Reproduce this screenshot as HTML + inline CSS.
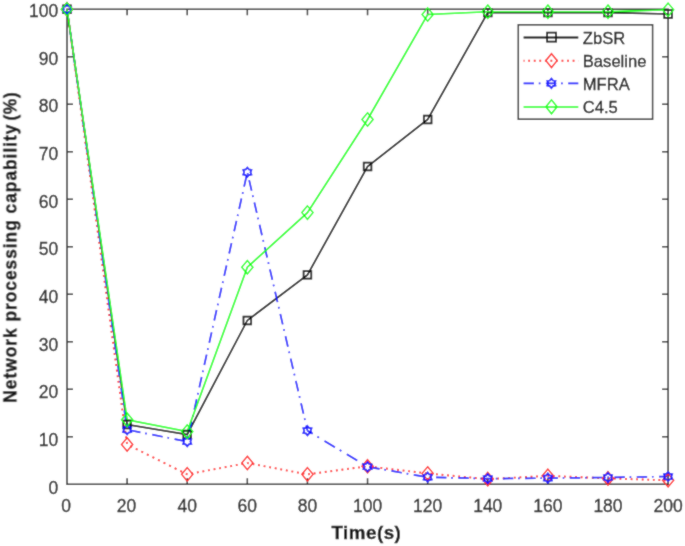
<!DOCTYPE html>
<html><head><meta charset="utf-8"><style>
html,body{margin:0;padding:0;background:#fff;}
body{width:685px;height:546px;overflow:hidden;position:relative;font-family:"Liberation Sans",sans-serif;}
svg{position:absolute;left:0;top:0;}
svg text{font-family:"Liberation Sans",sans-serif;}
</style></head><body>
<svg width="685" height="546" viewBox="0 0 685 546">
<defs><filter id="bl" filterUnits="userSpaceOnUse" x="0" y="0" width="685" height="546"><feConvolveMatrix order="3" kernelMatrix="1 2 1 2 16 2 1 2 1" divisor="28" edgeMode="duplicate"/></filter></defs>
<g filter="url(#bl)">
<rect width="685" height="546" fill="#fff"/>
<path d="M67.0,9.3V484.35H668.1V9.3Z" fill="none" stroke="#2a2a2a" stroke-width="1.5"/>
<path d="M127.11,484.35v-6.0M127.11,9.3v6.0M187.22,484.35v-6.0M187.22,9.3v6.0M247.33,484.35v-6.0M247.33,9.3v6.0M307.44,484.35v-6.0M307.44,9.3v6.0M367.55,484.35v-6.0M367.55,9.3v6.0M427.66,484.35v-6.0M427.66,9.3v6.0M487.77,484.35v-6.0M487.77,9.3v6.0M547.88,484.35v-6.0M547.88,9.3v6.0M607.99,484.35v-6.0M607.99,9.3v6.0M67.0,436.85h6.0M668.1,436.85h-6.0M67.0,389.34h6.0M668.1,389.34h-6.0M67.0,341.84h6.0M668.1,341.84h-6.0M67.0,294.33h6.0M668.1,294.33h-6.0M67.0,246.83h6.0M668.1,246.83h-6.0M67.0,199.32h6.0M668.1,199.32h-6.0M67.0,151.81h6.0M668.1,151.81h-6.0M67.0,104.31h6.0M668.1,104.31h-6.0M67.0,56.81h6.0M668.1,56.81h-6.0" fill="none" stroke="#2a2a2a" stroke-width="1.5"/>
<g font-size="17.5" fill="#262626" stroke="#262626" stroke-width="0.3"><text x="66.20" y="511.5" text-anchor="middle">0</text><text x="126.41" y="511.5" text-anchor="middle">20</text><text x="187.22" y="511.5" text-anchor="middle">40</text><text x="247.33" y="511.5" text-anchor="middle">60</text><text x="307.44" y="511.5" text-anchor="middle">80</text><text x="367.55" y="511.5" text-anchor="middle">100</text><text x="427.66" y="511.5" text-anchor="middle">120</text><text x="487.77" y="511.5" text-anchor="middle">140</text><text x="547.88" y="511.5" text-anchor="middle">160</text><text x="607.99" y="511.5" text-anchor="middle">180</text><text x="668.10" y="511.5" text-anchor="middle">200</text><text x="58.3" y="493.75" text-anchor="end">0</text><text x="58.3" y="446.09" text-anchor="end">10</text><text x="58.3" y="398.42" text-anchor="end">20</text><text x="58.3" y="350.76" text-anchor="end">30</text><text x="58.3" y="303.09" text-anchor="end">40</text><text x="58.3" y="255.43" text-anchor="end">50</text><text x="58.3" y="207.76" text-anchor="end">60</text><text x="58.3" y="160.09" text-anchor="end">70</text><text x="58.3" y="112.43" text-anchor="end">80</text><text x="58.3" y="64.77" text-anchor="end">90</text><text x="58.3" y="17.10" text-anchor="end">100</text></g>
<text x="366.4" y="538.9" text-anchor="middle" font-weight="bold" font-size="18.8" letter-spacing="0.5" fill="#111" stroke="#111" stroke-width="0.35">Time(s)</text>
<text transform="translate(16.4,247.1) rotate(-90)" text-anchor="middle" font-weight="bold" font-size="17.5" letter-spacing="0.9" fill="#111" stroke="#111" stroke-width="0.35">Network processing capability<tspan dx="3.2">(</tspan><tspan dx="-0.4">%</tspan><tspan dx="-0.3">)</tspan></text>
<polyline points="67.00,9.30 127.11,424.49 187.22,434.47 247.33,320.46 307.44,274.85 367.55,166.54 427.66,119.51 487.77,12.63 547.88,12.63 607.99,12.63 668.10,14.05" fill="none" stroke="#000" stroke-width="1.65"/>
<g fill="none" stroke="#ff1a1a" stroke-width="1.9"><path d="M67.00,9.30L127.11,444.45" stroke-dasharray="1.817 3.796" stroke-dashoffset="1.009"/><path d="M127.11,444.45L187.22,474.37" stroke-dasharray="2.011 4.200" stroke-dashoffset="487.215"/><path d="M187.22,474.37L247.33,462.97" stroke-dasharray="1.832 3.827" stroke-dashoffset="505.103"/><path d="M247.33,462.97L307.44,474.37" stroke-dasharray="1.832 3.827" stroke-dashoffset="566.285"/><path d="M307.44,474.37L367.55,466.30" stroke-dasharray="1.816 3.794" stroke-dashoffset="622.015"/><path d="M367.55,466.30L427.66,473.42" stroke-dasharray="1.813 3.786" stroke-dashoffset="681.323"/><path d="M427.66,473.42L487.77,479.12" stroke-dasharray="1.808 3.777" stroke-dashoffset="740.001"/><path d="M487.77,479.12L547.88,475.80" stroke-dasharray="1.803 3.766" stroke-dashoffset="798.024"/><path d="M547.88,475.80L607.99,478.41" stroke-dasharray="1.802 3.764" stroke-dashoffset="857.725"/><path d="M607.99,478.41L668.10,480.31" stroke-dasharray="1.801 3.762" stroke-dashoffset="917.484"/></g>
<g fill="none" stroke="#0a0aff" stroke-width="1.7"><path d="M67.00,9.30L127.11,429.72" stroke-dasharray="10.506 4.849 1.616 5.556" stroke-dashoffset="0.404"/><path d="M127.11,429.72L187.22,441.60" stroke-dasharray="10.601 4.893 1.631 5.606" stroke-dashoffset="428.954"/><path d="M187.22,441.60L247.33,172.24" stroke-dasharray="10.656 4.918 1.639 5.635" stroke-dashoffset="492.759"/><path d="M247.33,172.24L307.44,430.67" stroke-dasharray="10.678 4.928 1.643 5.647" stroke-dashoffset="770.311"/><path d="M307.44,430.67L367.55,466.77" stroke-dasharray="12.132 5.599 1.866 6.416" stroke-dashoffset="1176.674"/><path d="M367.55,466.77L427.66,477.22" stroke-dasharray="10.556 4.872 1.624 5.583" stroke-dashoffset="1084.854"/><path d="M427.66,477.22L487.77,478.65" stroke-dasharray="10.403 4.801 1.600 5.502" stroke-dashoffset="1129.247"/><path d="M487.77,478.65L547.88,478.17" stroke-dasharray="10.400 4.800 1.600 5.500" stroke-dashoffset="1189.077"/><path d="M547.88,478.17L607.99,477.46" stroke-dasharray="10.401 4.800 1.600 5.500" stroke-dashoffset="1249.238"/><path d="M607.99,477.46L668.10,476.51" stroke-dasharray="10.401 4.801 1.600 5.501" stroke-dashoffset="1309.423"/></g>
<polyline points="67.00,9.30 127.11,419.74 187.22,431.62 247.33,267.25 307.44,212.62 367.55,119.51 427.66,14.53 487.77,11.68 547.88,11.68 607.99,11.68 668.10,9.78" fill="none" stroke="#00ff00" stroke-width="1.6"/>
<path d="M63.15,5.45h7.70v7.70h-7.70zM123.26,420.64h7.70v7.70h-7.70zM183.37,430.62h7.70v7.70h-7.70zM243.48,316.61h7.70v7.70h-7.70zM303.59,271.00h7.70v7.70h-7.70zM363.70,162.69h7.70v7.70h-7.70zM423.81,115.66h7.70v7.70h-7.70zM483.92,8.78h7.70v7.70h-7.70zM544.03,8.78h7.70v7.70h-7.70zM604.14,8.78h7.70v7.70h-7.70zM664.25,10.20h7.70v7.70h-7.70z" fill="none" stroke="#000" stroke-width="1.75"/>
<path d="M67.00,2.60L72.60,9.30L67.00,16.00L61.40,9.30zM127.11,437.75L132.71,444.45L127.11,451.15L121.51,444.45zM187.22,467.67L192.82,474.37L187.22,481.07L181.62,474.37zM247.33,456.27L252.93,462.97L247.33,469.67L241.73,462.97zM307.44,467.67L313.04,474.37L307.44,481.07L301.84,474.37zM367.55,459.60L373.15,466.30L367.55,473.00L361.95,466.30zM427.66,466.72L433.26,473.42L427.66,480.12L422.06,473.42zM487.77,472.42L493.37,479.12L487.77,485.82L482.17,479.12zM547.88,469.10L553.48,475.80L547.88,482.50L542.28,475.80zM607.99,471.71L613.59,478.41L607.99,485.11L602.39,478.41zM668.10,473.61L673.70,480.31L668.10,487.01L662.50,480.31z" fill="none" stroke="#ff1a1a" stroke-width="1.4"/>
<path d="M67.00,4.60L68.60,6.53L71.07,6.95L70.20,9.30L71.07,11.65L68.60,12.07L67.00,14.00L65.40,12.07L62.93,11.65L63.80,9.30L62.93,6.95L65.40,6.53zM127.11,425.02L128.71,426.95L131.18,427.37L130.31,429.72L131.18,432.07L128.71,432.49L127.11,434.42L125.51,432.49L123.04,432.07L123.91,429.72L123.04,427.37L125.51,426.95zM187.22,436.90L188.82,438.83L191.29,439.25L190.42,441.60L191.29,443.95L188.82,444.36L187.22,446.30L185.62,444.36L183.15,443.95L184.02,441.60L183.15,439.25L185.62,438.83zM247.33,167.54L248.93,169.47L251.40,169.89L250.53,172.24L251.40,174.59L248.93,175.01L247.33,176.94L245.73,175.01L243.26,174.59L244.13,172.24L243.26,169.89L245.73,169.47zM307.44,425.97L309.04,427.90L311.51,428.32L310.64,430.67L311.51,433.02L309.04,433.44L307.44,435.37L305.84,433.44L303.37,433.02L304.24,430.67L303.37,428.32L305.84,427.90zM367.55,462.07L369.15,464.01L371.62,464.42L370.75,466.77L371.62,469.12L369.15,469.54L367.55,471.47L365.95,469.54L363.48,469.12L364.35,466.77L363.48,464.42L365.95,464.01zM427.66,472.52L429.26,474.46L431.73,474.87L430.86,477.22L431.73,479.57L429.26,479.99L427.66,481.92L426.06,479.99L423.59,479.57L424.46,477.22L423.59,474.87L426.06,474.46zM487.77,473.95L489.37,475.88L491.84,476.30L490.97,478.65L491.84,481.00L489.37,481.42L487.77,483.35L486.17,481.42L483.70,481.00L484.57,478.65L483.70,476.30L486.17,475.88zM547.88,473.47L549.48,475.41L551.95,475.82L551.08,478.17L551.95,480.52L549.48,480.94L547.88,482.87L546.28,480.94L543.81,480.52L544.68,478.17L543.81,475.82L546.28,475.41zM607.99,472.76L609.59,474.69L612.06,475.11L611.19,477.46L612.06,479.81L609.59,480.23L607.99,482.16L606.39,480.23L603.92,479.81L604.79,477.46L603.92,475.11L606.39,474.69zM668.10,471.81L669.70,473.74L672.17,474.16L671.30,476.51L672.17,478.86L669.70,479.28L668.10,481.21L666.50,479.28L664.03,478.86L664.90,476.51L664.03,474.16L666.50,473.74z" fill="none" stroke="#0a0aff" stroke-width="1.8"/>
<path d="M67.00,2.60L72.60,9.30L67.00,16.00L61.40,9.30zM127.11,413.04L132.71,419.74L127.11,426.44L121.51,419.74zM187.22,424.92L192.82,431.62L187.22,438.32L181.62,431.62zM247.33,260.55L252.93,267.25L247.33,273.95L241.73,267.25zM307.44,205.92L313.04,212.62L307.44,219.32L301.84,212.62zM367.55,112.81L373.15,119.51L367.55,126.21L361.95,119.51zM427.66,7.83L433.26,14.53L427.66,21.23L422.06,14.53zM487.77,4.98L493.37,11.68L487.77,18.38L482.17,11.68zM547.88,4.98L553.48,11.68L547.88,18.38L542.28,11.68zM607.99,4.98L613.59,11.68L607.99,18.38L602.39,11.68zM668.10,3.08L673.70,9.78L668.10,16.48L662.50,9.78z" fill="none" stroke="#00ff00" stroke-width="1.4"/>
<rect x="518.3" y="24.8" width="134.30" height="94.40" fill="#fff" stroke="#2a2a2a" stroke-width="1.5"/>
<path d="M523.6,37.5H578.3" fill="none" stroke="#000" stroke-width="1.8" />
<path d="M547.10,32.70h9.00v9.00h-9.00z" fill="none" stroke="#000" stroke-width="1.8"/>
<text x="582.8" y="44.10" font-size="16.6" fill="#151515" stroke="#151515" stroke-width="0.3">ZbSR</text>
<path d="M523.6,60.8H578.3" fill="none" stroke="#ff1a1a" stroke-width="1.9" stroke-dasharray="1.8 3.75" stroke-dashoffset="0.9"/>
<path d="M551.50,53.70L557.10,60.60L551.50,67.50L545.90,60.60z" fill="none" stroke="#ff1a1a" stroke-width="1.5"/>
<text x="582.8" y="66.70" font-size="16.6" fill="#151515" stroke="#151515" stroke-width="0.3">Baseline</text>
<path d="M523.6,83.3H578.3" fill="none" stroke="#0a0aff" stroke-width="1.8" stroke-dasharray="10.4 4.8 1.6 5.5"/>
<path d="M551.40,78.60L553.00,80.53L555.47,80.95L554.60,83.30L555.47,85.65L553.00,86.07L551.40,88.00L549.80,86.07L547.33,85.65L548.20,83.30L547.33,80.95L549.80,80.53z" fill="none" stroke="#0a0aff" stroke-width="1.8"/>
<text x="582.8" y="90.30" font-size="16.6" fill="#151515" stroke="#151515" stroke-width="0.3">MFRA</text>
<path d="M523.6,107.0H578.3" fill="none" stroke="#00ff00" stroke-width="1.6" />
<path d="M551.50,99.90L557.10,106.80L551.50,113.70L545.90,106.80z" fill="none" stroke="#00ff00" stroke-width="1.5"/>
<text x="582.8" y="112.90" font-size="16.6" fill="#151515" stroke="#151515" stroke-width="0.3">C4.5</text>
</g>
</svg>
</body></html>
